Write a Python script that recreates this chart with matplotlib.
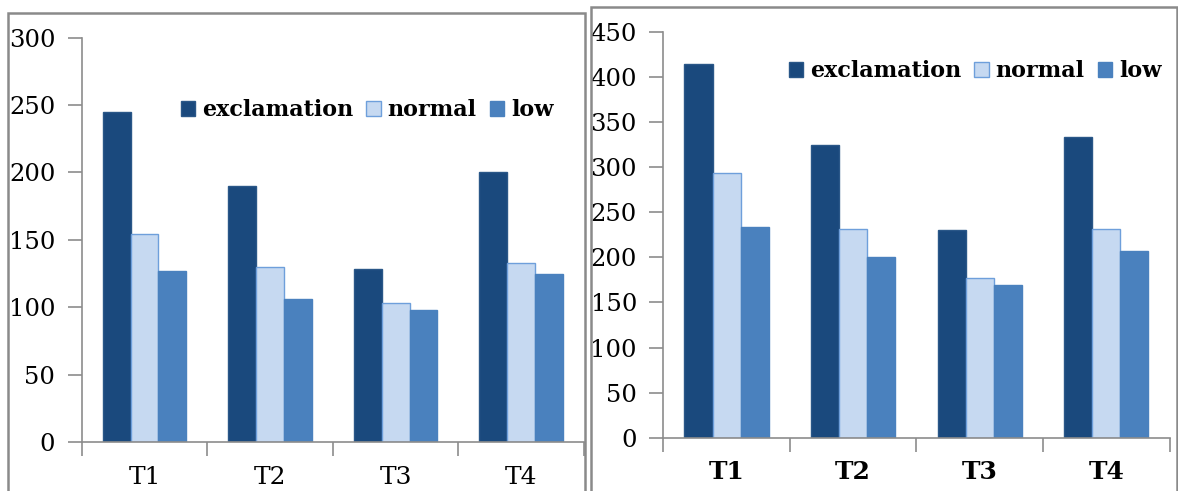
import numpy as np
import matplotlib.pyplot as plt
from matplotlib.patches import Patch, Rectangle

categories = ['T1', 'T2', 'T3', 'T4']
series = ['exclamation', 'normal', 'low']

left_exclamation = [245, 190, 128, 200]
left_normal = [154, 130, 103, 133]
left_low = [127, 106, 98, 125]

right_exclamation = [415, 325, 230, 334]
right_normal = [294, 232, 177, 231]
right_low = [234, 200, 169, 207]

face = ['#1A497D', '#C6D9F1', '#4A81BE']
edge = ['#2A5788', '#6E9FDB', '#4A81BE']

plt.rcParams['font.family'] = 'DejaVu Serif'

fig = plt.figure(figsize=(11.78, 4.91), dpi=100)
W, H = 1178, 491


def px(x0, y0, x1, y1):
    # pixel box (top-left origin) -> figure fraction [l, b, w, h]
    return [x0 / W, 1 - y1 / H, (x1 - x0) / W, (y1 - y0) / H]


def draw_panel(rect, values, ymax, bold_x, legend_at, xpad):
    ax = fig.add_axes(rect)
    x = np.arange(len(categories))
    w = 0.222
    for i, vals in enumerate(values):
        ax.bar(x + (i - 1) * w, vals, w, color=face[i], edgecolor=edge[i],
               linewidth=1.0, zorder=2)
    ax.set_xlim(-0.5, len(categories) - 0.5)
    ax.set_ylim(0, ymax)
    ax.set_yticks(range(0, ymax + 1, 50))
    ax.set_xticks(x)
    ax.set_xticklabels(categories, fontsize=18,
                       fontweight='bold' if bold_x else 'normal')
    ax.set_xticks(np.arange(-0.5, len(categories)), minor=True)
    ax.tick_params(axis='x', which='major', length=0, pad=xpad)
    ax.tick_params(axis='x', which='minor', length=10, color='#8C8C8C',
                   width=1.2)
    ax.tick_params(axis='y', length=10, color='#8C8C8C', width=1.2,
                   labelsize=17.5, pad=9)
    for s in ('top', 'right'):
        ax.spines[s].set_visible(False)
    for s in ('left', 'bottom'):
        ax.spines[s].set_color('#8C8C8C')
        ax.spines[s].set_linewidth(1.2)
    handles = [Patch(facecolor=face[i], edgecolor=edge[i], linewidth=1.0,
                     label=series[i]) for i in range(3)]
    ax.legend(handles=handles, ncol=3, frameon=False, loc='center',
              bbox_to_anchor=legend_at, bbox_transform=fig.transFigure,
              handlelength=0.65, handleheight=0.65, handletextpad=0.3,
              columnspacing=0.6, borderpad=0,
              prop={'weight': 'bold', 'size': 16})
    return ax


draw_panel(px(81.7, 37.7, 584, 442),
           [left_exclamation, left_normal, left_low], 300, False,
           (367 / W, 1 - 110 / H), 17)
draw_panel(px(663.3, 32, 1169.5, 437.7),
           [right_exclamation, right_normal, right_low], 450, True,
           (975 / W, 1 - 71 / H), 16)

# panel frames
for x0, y0, x1 in [(8, 13, 585), (591, 7, 1177)]:
    fig.patches.append(Rectangle((x0 / W, -0.1), (x1 - x0) / W,
                                 1 - y0 / H + 0.1, transform=fig.transFigure,
                                 fill=False, edgecolor='#8A8A8A',
                                 linewidth=1.8))

fig.savefig('out.png', dpi=100)
